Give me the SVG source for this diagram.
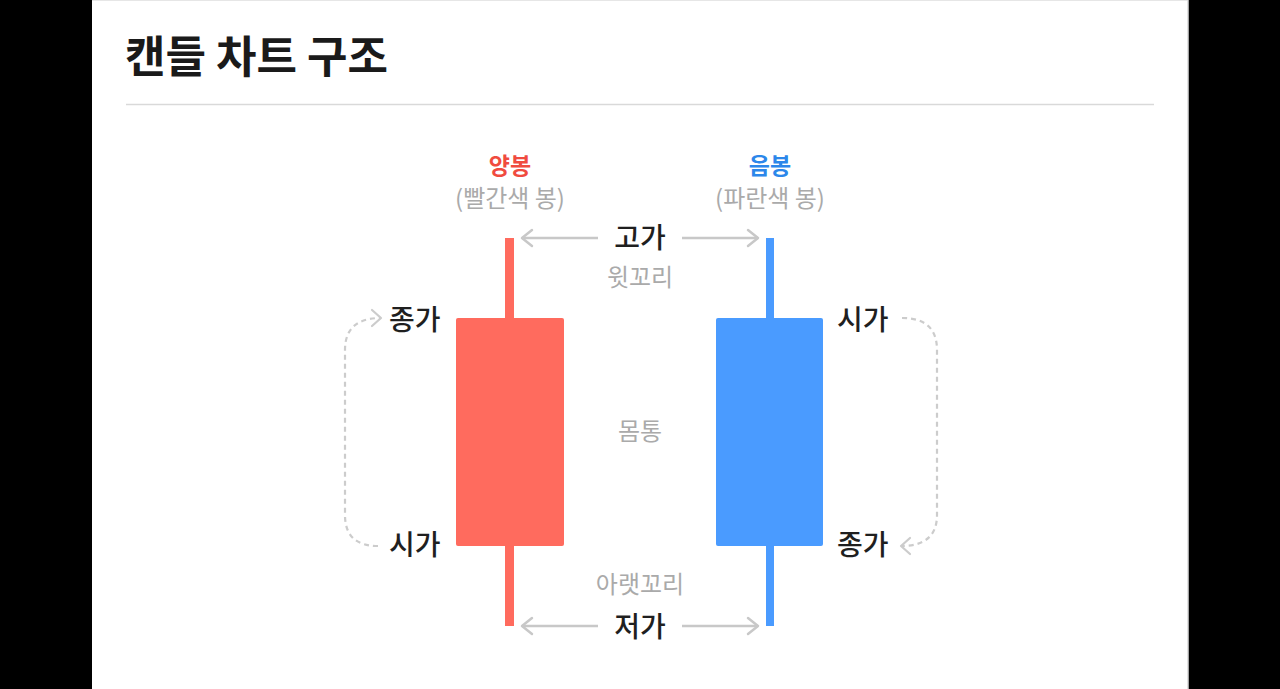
<svg xmlns="http://www.w3.org/2000/svg" width="1280" height="689" viewBox="0 0 1280 689">
<defs>
<marker id="chev" markerWidth="14" markerHeight="20" refX="12" refY="10" orient="auto" markerUnits="userSpaceOnUse">
<path d="M2,2 L12,10 L2,18" fill="none" stroke="#c8c8c8" stroke-width="2.5" stroke-linecap="round" stroke-linejoin="round"/>
</marker>
<marker id="chevd" markerWidth="14" markerHeight="22" refX="12" refY="11" orient="auto" markerUnits="userSpaceOnUse">
<path d="M3,3 L12,11 L3,19" fill="none" stroke="#cccccc" stroke-width="2.2" stroke-linecap="round" stroke-linejoin="round"/>
</marker>
</defs>
<style>
text{font-family:"Noto Sans CJK KR","Noto Sans",sans-serif;}
.title{font-size:44px;font-weight:700;fill:#1a1a1a;}
.head{font-size:23px;font-weight:700;text-anchor:middle;}
.sub{font-size:24px;fill:#aaaaaa;text-anchor:middle;}
.lab{font-size:28px;font-weight:500;fill:#1f1f1f;}
.mid{text-anchor:middle;}
.arrow{stroke:#c8c8c8;stroke-width:2.5;fill:none;marker-end:url(#chev);}
.dash{stroke:#cccccc;stroke-width:2.2;fill:none;stroke-dasharray:5 4;marker-end:url(#chevd);}
</style>
<rect x="0" y="0" width="1280" height="689" fill="#000"/>
<rect x="92" y="0" width="1096" height="689" fill="#fff"/>
<line x1="92" y1="0.5" x2="1188" y2="0.5" stroke="#e6e6e6" stroke-width="1"/>
<line x1="1188" y1="0" x2="1188" y2="689" stroke="#d8d8d8" stroke-width="1.5"/>
<text class="title" x="125" y="73">캔들 차트 구조</text>
<line x1="126" y1="104.5" x2="1154" y2="104.5" stroke="#d9d9d9" stroke-width="1.5"/>

<g id="connectors">
<line class="arrow" x1="598" y1="238" x2="522" y2="238"/>
<line class="arrow" x1="682" y1="238" x2="758" y2="238"/>
<line class="arrow" x1="598" y1="626" x2="522" y2="626"/>
<line class="arrow" x1="682" y1="626" x2="758" y2="626"/>
<path class="dash" d="M378,546 Q345,546 345,515 L345,350 Q345,318 381,318"/>
<path class="dash" d="M902,318 Q937,318 937,350 L937,515 Q937,546 901,546"/>
</g>

<g id="bull">
<rect x="505" y="238" width="9" height="388" fill="#FF6B5E"/>
<rect x="456" y="318" width="108" height="228" rx="2" fill="#FF6B5E"/>
<text class="head" x="510" y="174" fill="#F04B3F">양봉</text>
<text class="sub" x="510" y="207">(빨간색 봉)</text>
</g>

<g id="bear">
<rect x="766" y="238" width="8" height="388" fill="#4A9BFF"/>
<rect x="716" y="318" width="107" height="228" rx="2" fill="#4A9BFF"/>
<text class="head" x="770" y="174" fill="#2C87EA">음봉</text>
<text class="sub" x="770" y="207">(파란색 봉)</text>
</g>

<g id="labels">
<text class="lab mid" x="640" y="248">고가</text>
<text class="sub" x="640" y="286">윗꼬리</text>
<text class="sub" x="640" y="440">몸통</text>
<text class="sub" x="640" y="593">아랫꼬리</text>
<text class="lab mid" x="640" y="637">저가</text>
<text class="lab" x="389" y="330">종가</text>
<text class="lab" x="389" y="555">시가</text>
<text class="lab" x="837" y="330">시가</text>
<text class="lab" x="837" y="555">종가</text>
</g>
</svg>
